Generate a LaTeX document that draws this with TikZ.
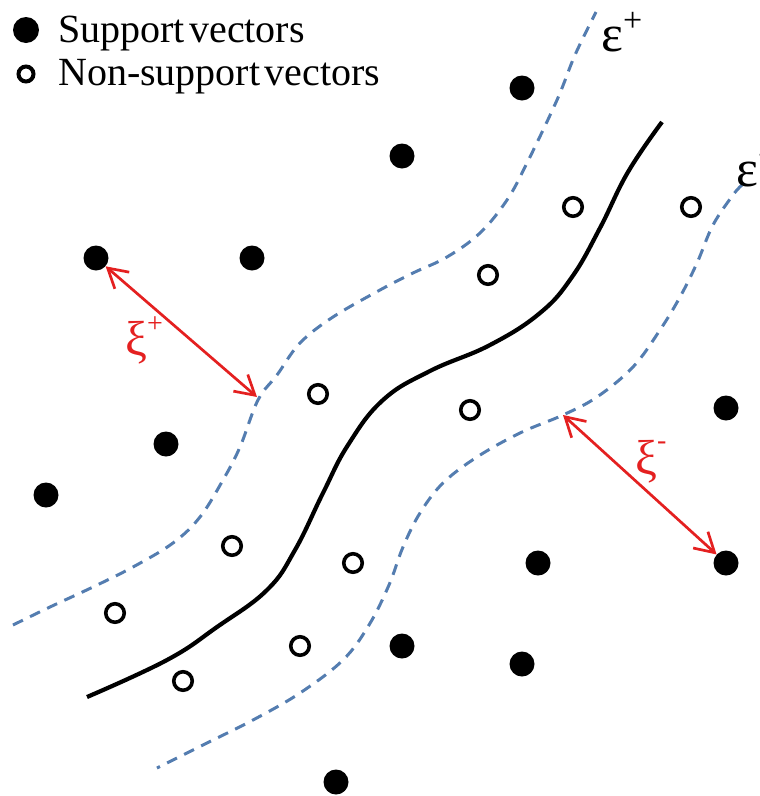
\documentclass[tikz,border=0pt]{standalone}
\usepackage{fontspec}
\setmainfont{Liberation Serif}[WordSpace=0.45]
\usetikzlibrary{arrows.meta}
\definecolor{dashblue}{RGB}{84,125,176}
\definecolor{arrred}{RGB}{228,32,32}
\begin{document}
\begin{tikzpicture}[x=1pt,y=-1pt,
  sv/.style={circle,fill=black,inner sep=0pt,minimum size=25pt},
  nsv/.style={circle,draw=black,line width=3.6pt,inner sep=0pt,minimum size=18.5pt},
  margin/.style={dashblue,line width=3pt,dash pattern=on 11pt off 8pt},
  boundary/.style={black,line width=4.2pt},
  redarrow/.style={arrred,line width=2.7pt,{Straight Barb[length=19pt,width=22pt,line width=2.7pt]}-{Straight Barb[length=19pt,width=22pt,line width=2.7pt]}},
  legendtext/.style={anchor=base west,inner sep=0pt,font=\fontsize{40}{41}\selectfont},
  eps/.style={anchor=base west,inner sep=0pt,font=\fontsize{52}{52}\selectfont},
  xi/.style={anchor=base west,inner sep=0pt,text=arrred,font=\fontsize{49}{49}\selectfont}
]
\useasboundingbox (0,0) rectangle (760,796);

% legend
\node[sv,minimum size=26pt] (legsv) at (26,30) {};
\node[nsv,minimum size=15pt,line width=4pt] (legnsv) at (26,74) {};
\node[legendtext] (legt1) at (58,42) {Support vectors};
\node[legendtext] (legt2) at (58,85) {Non-support vectors};

% margins
\draw[margin] plot[smooth,tension=0.6] coordinates {(13,625) (50,607) (93,587) (133,567) (173,543) (200,517) (223,480) (240,447) (258,400) (277,375) (300,343) (333,317) (380,290) (413,273) (447,257) (480,233) (507,200) (527,163) (557,100) (575,55) (596,12)};
\draw[margin] plot[smooth,tension=0.6] coordinates {(742,185) (733,195) (713,225) (697,263) (680,297) (660,330) (633,367) (597,397) (563,415) (520,433) (477,457) (443,483) (420,513) (403,547) (389,585) (369,625) (343,660) (300,693) (253,720) (207,743) (157,768)};

% boundary
\draw[boundary] plot[smooth,tension=0.7] coordinates {(87,697) (167,660) (217,627) (267,590) (295,550) (323,493) (348,445) (383,400) (430,371) (490,345) (540,313) (572,277) (600,228) (628,172) (662,122)};

% support vectors
\node[sv] (s1) at (522,88) {};
\node[sv] (s2) at (402,156) {};
\node[sv] (s3) at (96,258) {};
\node[sv] (s4) at (252,258) {};
\node[sv] (s5) at (166,444) {};
\node[sv] (s6) at (46,495) {};
\node[sv] (s7) at (726,408) {};
\node[sv] (s8) at (538,563) {};
\node[sv] (s9) at (726,563) {};
\node[sv] (s10) at (402,646) {};
\node[sv] (s11) at (522,664) {};
\node[sv] (s12) at (336,782) {};

% non-support vectors
\node[nsv] (n1) at (573,207) {};
\node[nsv] (n2) at (691,207) {};
\node[nsv] (n3) at (488,275) {};
\node[nsv] (n4) at (318,394) {};
\node[nsv] (n5) at (470,410) {};
\node[nsv] (n6) at (232,546) {};
\node[nsv] (n7) at (353,563) {};
\node[nsv] (n8) at (115,613) {};
\node[nsv] (n9) at (300,646) {};
\node[nsv] (n10) at (183,681) {};

% slack arrows
\coordinate (c1) at (257,397);
\coordinate (c2) at (563,415);
\draw[redarrow] (s3) -- (c1);
\draw[redarrow] (c2) -- (s9);

% labels
\node[eps] (epsp) at (601,51) {ε\raisebox{0.38em}{\fontsize{34}{34}\selectfont +}};
\node[eps] (epsm) at (736,186) {ε\raisebox{0.38em}{\fontsize{34}{34}\selectfont −}};
\node[xi] (xip) at (125,355) {ξ\raisebox{0.45em}{\fontsize{28}{28}\selectfont +}};
\node[xi] (xim) at (635,474) {ξ\raisebox{0.5em}{\fontsize{28}{28}\selectfont -}};
\end{tikzpicture}
\end{document}
